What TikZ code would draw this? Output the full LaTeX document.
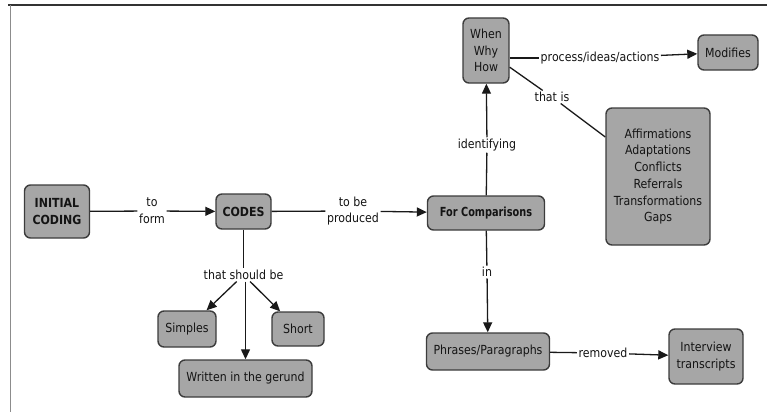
\documentclass[tikz,border=0pt]{standalone}
\usepackage{fontspec}
\setmainfont{DejaVu Sans}[FakeStretch=0.88]
\newfontfamily\condbold{DejaVu Sans}[FakeStretch=0.78]
\usetikzlibrary{arrows.meta}
\definecolor{boxfill}{RGB}{166,166,166}
\definecolor{boxline}{RGB}{60,60,60}
\definecolor{txt}{RGB}{20,20,20}
\begin{document}
\begin{tikzpicture}[x=1pt,y=-1pt,
  font=\fontsize{12.5}{16.7}\selectfont,
  concept/.style={draw=boxline, line width=1.4pt, fill=boxfill, rounded corners=6pt,
    align=center, inner sep=0pt, text=txt},
  lbl/.style={fill=white, inner sep=1.5pt, align=center, text=txt},
  link/.style={line width=1.3pt, draw=black!90},
  arrowlink/.style={link, -{Triangle[length=10pt,width=9pt]}}]
  \useasboundingbox (0,0) rectangle (767,412);

  % page frame
  \draw[line width=1.2pt, black!80] (8,5) -- (767,5);
  \draw[line width=1.5pt, black!45] (10.5,5) -- (10.5,412);

  % concepts
  \node[concept, minimum width=65pt, minimum height=53pt] (init) at (57,211.5) {\bfseries INITIAL\\\bfseries CODING};
  \node[concept, minimum width=55pt, minimum height=35pt] (codes) at (243.5,211.5) {\bfseries CODES};
  \node[concept, minimum width=117pt, minimum height=34pt] (comp) at (486,213) {\condbold\bfseries For Comparisons};
  \node[concept, minimum width=46pt, minimum height=65pt] (when) at (486,50.5) {When\\Why\\How};
  \node[concept, minimum width=60pt, minimum height=35pt] (mod) at (728,52.5) {Modifies};
  \node[concept, minimum width=104pt, minimum height=137pt] (affirm) at (658,176.5)
    {Affirmations\\Adaptations\\Conflicts\\Referrals\\Transformations\\Gaps};
  \node[concept, minimum width=123pt, minimum height=37pt] (phr) at (488,351.5) {Phrases/Paragraphs};
  \node[concept, minimum width=74pt, minimum height=55pt] (inter) at (706,356.5) {Interview\\transcripts};
  \node[concept, minimum width=58pt, minimum height=36pt] (simp) at (187,329) {Simples};
  \node[concept, minimum width=52pt, minimum height=34pt] (short) at (298,329) {Short};
  \node[concept, minimum width=133pt, minimum height=37pt] (gerund) at (245.5,378.5) {Written in the gerund};

  % link labels
  \node[lbl] (toform) at (152,211) {to\\form};
  \node[lbl] (tobe) at (353,211) {to be\\produced};
  \node[lbl] (should) at (243.5,275) {that should be};
  \node[lbl] (ident) at (487,145) {identifying};
  \node[lbl] (in) at (487,272) {in};
  \node[lbl] (thatis) at (552,97) {that is};
  \node[lbl] (proc) at (600,58) {process/ideas/actions};
  \node[lbl] (removed) at (603,353) {removed};

  % links
  \draw[link] (init) -- (toform);
  \draw[arrowlink] (toform) -- (codes);
  \draw[link] (codes) -- (should);
  \draw[arrowlink] (should) -- (simp);
  \draw[arrowlink] (should) -- (short);
  \draw[arrowlink] (should.south -| gerund.north) -- (gerund.north);
  \draw[link] (codes) -- (tobe);
  \draw[arrowlink] (tobe) -- (comp);
  \draw[link] (comp) -- (ident);
  \draw[arrowlink] (ident) -- (when);
  \draw[link] (when.east |- proc) -- (proc);
  \draw[arrowlink] (proc) -- (mod);
  \draw[link] (when) -- (thatis);
  \draw[link] (thatis) -- (affirm);
  \draw[link] (comp) -- (in);
  \draw[arrowlink] (in) -- (phr);
  \draw[link] (phr) -- (removed);
  \draw[arrowlink] (removed) -- (inter);
\end{tikzpicture}
\end{document}
